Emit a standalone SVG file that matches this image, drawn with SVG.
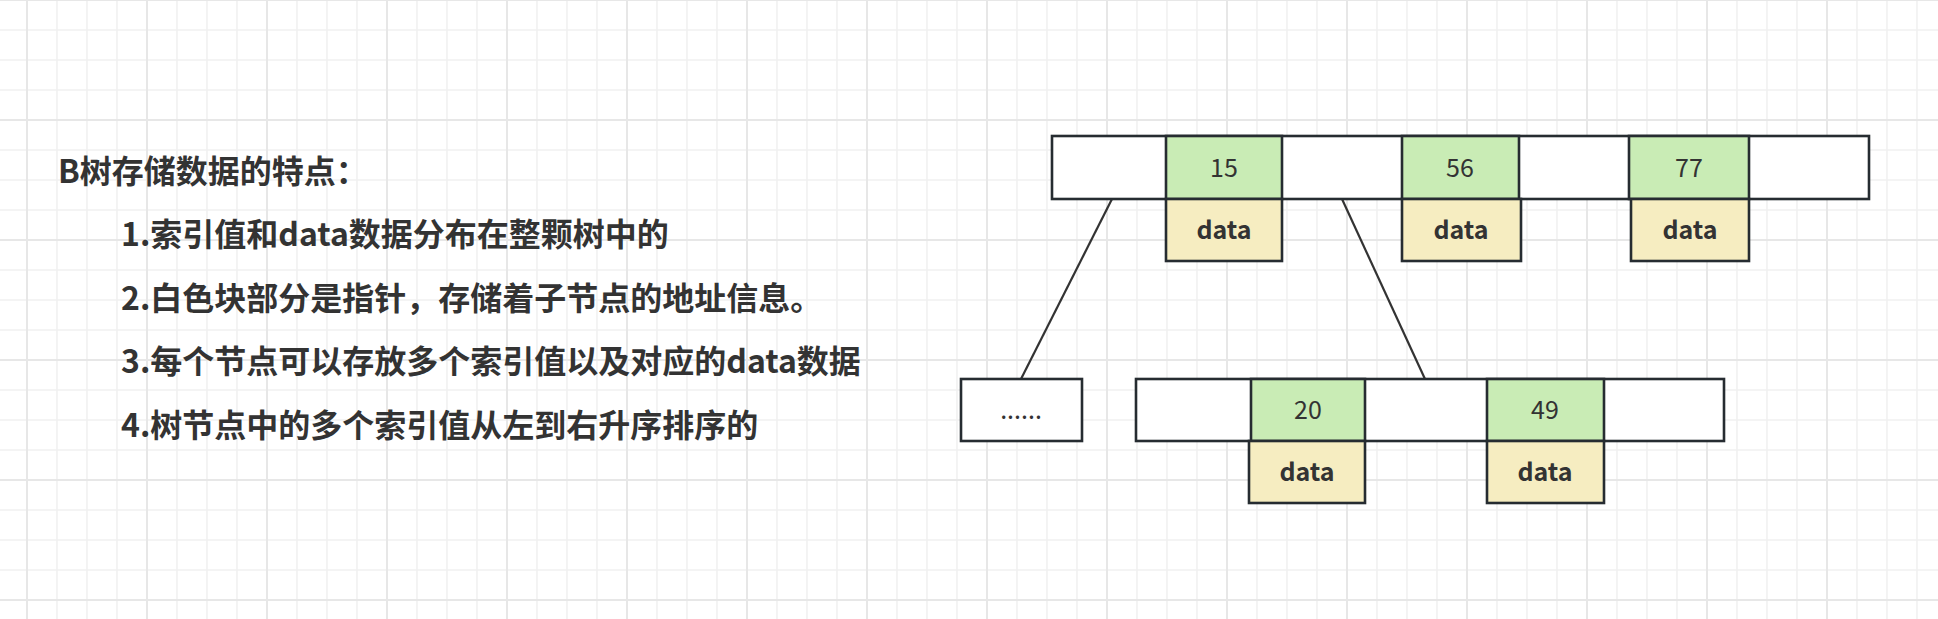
<svg xmlns="http://www.w3.org/2000/svg" width="1938" height="619" viewBox="0 0 1938 619">
<defs>
<pattern id="grid" x="12" y="-15" width="120" height="120" patternUnits="userSpaceOnUse">
<path d="M45 0V120M75 0V120M105 0V120M0 45H120M0 75H120M0 105H120" stroke="#f1f1f1" stroke-width="1.6" fill="none"/>
<path d="M15 0V120M0 15H120" stroke="#e7e7e7" stroke-width="2" fill="none"/>
</pattern>
<style>
.t{font-family:"Noto Sans CJK SC","Microsoft YaHei",sans-serif;font-weight:bold;font-size:32px;fill:#333333}
.w{fill:#ffffff;stroke:#262c31;stroke-width:2.6}
.g{fill:#c9ecb5;stroke:#262c31;stroke-width:2.6}
.y{fill:#f6edc1;stroke:#262c31;stroke-width:2.6}
.n{font-family:"Noto Sans CJK SC","Microsoft YaHei",sans-serif;font-size:25px;fill:#333333;text-anchor:middle}
.d{font-family:"Noto Sans CJK SC","Microsoft YaHei",sans-serif;font-size:25px;font-weight:bold;fill:#333333;text-anchor:middle}
.c{stroke:#333333;stroke-width:2.2;fill:none}
</style>
</defs>
<rect width="1938" height="619" fill="#ffffff"/>
<rect width="1938" height="619" fill="url(#grid)"/>
<g id="notes">
<text class="t" x="58" y="183">B树存储数据的特点：</text>
<text class="t" x="121" y="246">1.索引值和data数据分布在整颗树中的</text>
<text class="t" x="121" y="310">2.白色块部分是指针，存储着子节点的地址信息。</text>
<text class="t" x="121" y="373">3.每个节点可以存放多个索引值以及对应的data数据</text>
<text class="t" x="121" y="437">4.树节点中的多个索引值从左到右升序排序的</text>
</g>
<g id="connectors">
<line class="c" x1="1112" y1="199" x2="1021" y2="379"/>
<line class="c" x1="1342" y1="199" x2="1425" y2="379"/>
</g>
<g id="root-node">
<rect class="w" x="1052" y="136" width="817" height="63"/>
<rect class="g" x="1166" y="136" width="116" height="63"/>
<rect class="g" x="1402" y="136" width="117" height="63"/>
<rect class="g" x="1629" y="136" width="120" height="63"/>
<text class="n" x="1224" y="177">15</text>
<text class="n" x="1460" y="177">56</text>
<text class="n" x="1689" y="177">77</text>
<rect class="y" x="1166" y="199" width="116" height="62"/>
<rect class="y" x="1402" y="199" width="119" height="62"/>
<rect class="y" x="1631" y="199" width="118" height="62"/>
<text class="d" x="1224" y="239">data</text>
<text class="d" x="1461" y="239">data</text>
<text class="d" x="1690" y="239">data</text>
</g>
<g id="leaf-left">
<rect class="w" x="961" y="379" width="121" height="62"/>
<text class="n" x="1021" y="419">......</text>
</g>
<g id="leaf-right">
<rect class="w" x="1136" y="379" width="588" height="62"/>
<rect class="g" x="1251" y="379" width="114" height="62"/>
<rect class="g" x="1487" y="379" width="117" height="62"/>
<text class="n" x="1308" y="419">20</text>
<text class="n" x="1545" y="419">49</text>
<rect class="y" x="1249" y="441" width="116" height="62"/>
<rect class="y" x="1487" y="441" width="117" height="62"/>
<text class="d" x="1307" y="481">data</text>
<text class="d" x="1545" y="481">data</text>
</g>
</svg>
